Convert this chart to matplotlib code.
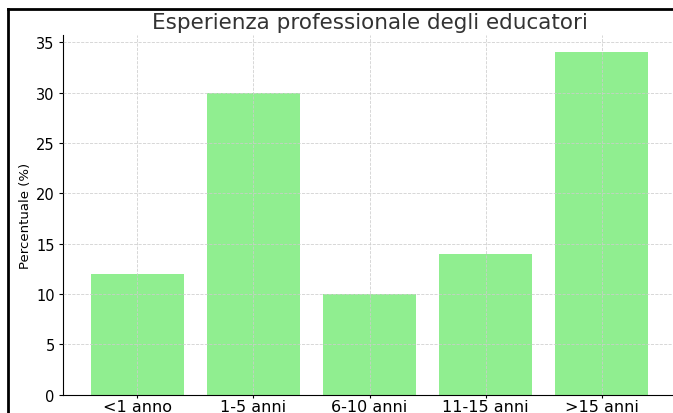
import matplotlib.pyplot as plt
from matplotlib.lines import Line2D

# dati
categorie = ["<1 anno", "1-5 anni", "6-10 anni", "11-15 anni", ">15 anni"]
percentuali = [12, 30, 10, 14, 34]

fig = plt.figure(figsize=(6.73, 4.14), dpi=100)
ax = fig.add_axes([0.0936, 0.0445, 0.911, 0.868])

ax.bar(categorie, percentuali, color="lightgreen")
ax.set_title("Esperienza professionale degli educatori", fontsize=15.5, color="#333333", pad=5)
ax.set_ylabel("Percentuale (%)", fontsize=9.5, labelpad=3)
ax.tick_params(axis="x", labelsize=11.5, length=2.5, pad=0.5)
ax.tick_params(axis="y", labelsize=10.5, length=3, pad=3)
ax.set_yticks(range(0, 36, 5))

ax.grid(True, linestyle="--", linewidth=0.6, color="#cccccc", alpha=0.9)
ax.set_axisbelow(False)
ax.spines["top"].set_visible(False)
ax.spines["right"].set_visible(False)

# bordo nero del ritaglio
fig.add_artist(Line2D([8 / 673, 1], [1 - 10 / 414, 1 - 10 / 414], color="black", lw=2, transform=fig.transFigure))
fig.add_artist(Line2D([8 / 673, 8 / 673], [0, 1 - 10 / 414], color="black", lw=2, transform=fig.transFigure))

fig.savefig("out.png", dpi=100)
